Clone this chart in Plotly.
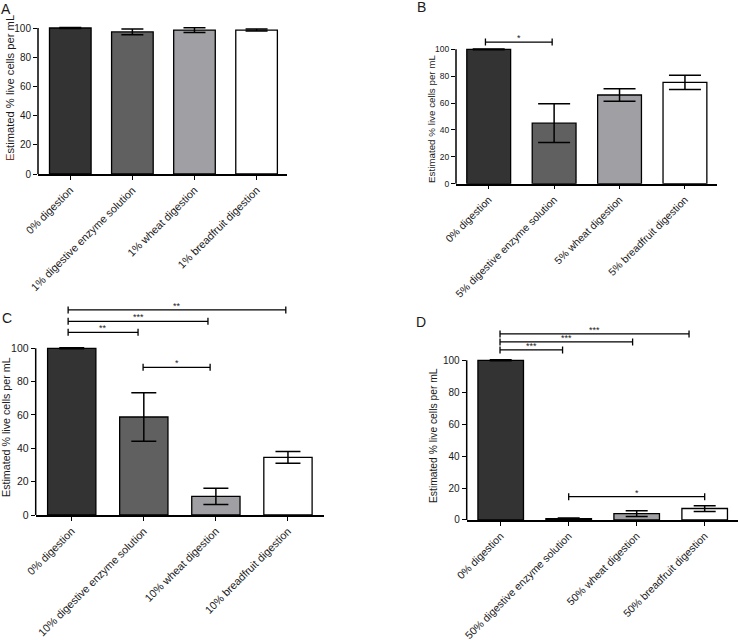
import plotly.graph_objects as go

W, H = 740, 640
FONT = "Liberation Sans, Arial, sans-serif"
INK = "#1a1a1a"

# ---------------- data ----------------
cats_A = ["0% digestion", "1% digestive enzyme solution", "1% wheat digestion", "1% breadfruit digestion"]
vals_A = [100, 97.3, 98.6, 98.6]
err_A = [0.3, 2.0, 1.6, 0.7]
brackets_A = []

cats_B = ["0% digestion", "5% digestive enzyme solution", "5% wheat digestion", "5% breadfruit digestion"]
vals_B = [100, 45.0, 66.0, 75.4]
err_B = [0.3, 14.4, 4.7, 5.3]
brackets_B = [(-0.05, 0.97, 105.4, "*")]

cats_C = ["0% digestion", "10% digestive enzyme solution", "10% wheat digestion", "10% breadfruit digestion"]
vals_C = [100, 58.8, 11.2, 34.6]
err_C = [0.3, 14.5, 4.9, 3.5]
brackets_C = [(-0.05, 2.97, 123.0, "**"),
              (-0.05, 1.89, 116.2, "***"),
              (-0.05, 0.92, 109.6, "**"),
              (0.99, 1.92, 88.6, "*")]

cats_D = ["0% digestion", "50% digestive enzyme solution", "50% wheat digestion", "50% breadfruit digestion"]
vals_D = [100, 0.9, 4.0, 7.2]
err_D = [0.3, 0.4, 1.8, 1.8]
brackets_D = [(-0.01, 2.77, 116.5, "***"),
              (-0.01, 1.94, 111.5, "***"),
              (-0.01, 0.91, 106.5, "***"),
              (1.0, 3.0, 14.6, "*")]

y_ticks = [0, 20, 40, 60, 80, 100]
bar_colors = ["#333333", "#606060", "#a0a0a4", "#ffffff"]
y_title = "Estimated % live cells per mL"

# ---------------- layout geometry (pixels) ----------------
panels = [
    dict(label="A", cats=cats_A, vals=vals_A, errs=err_A, br=brackets_A, x0=38, x1=287, y0=174, y100=28,
         ymax=102, xr=[-0.52, 3.49], tf=10, xtf=10.8, ttf=11.2, tpos=(10, 88), lpos=(6, 9), cap=11,
         title="<span style='color:#7a3a2a'>E</span>stimated % live cells per mL"),
    dict(label="B", cats=cats_B, vals=vals_B, errs=err_B, br=brackets_B, x0=456, x1=717, y0=183.7, y100=49.3,
         ymax=112, xr=[-0.5, 3.49], tf=8.5, xtf=10.5, ttf=9.8, tpos=(432, 119), lpos=(422, 7), cap=16,
         title=y_title),
    dict(label="C", cats=cats_C, vals=vals_C, errs=err_C, br=brackets_C, x0=35.7, x1=324, y0=515, y100=348.3,
         ymax=130, xr=[-0.5, 3.5], tf=10.5, xtf=10.8, ttf=10.7, tpos=(6, 427), lpos=(7, 318), cap=12.5,
         title=y_title),
    dict(label="D", cats=cats_D, vals=vals_D, errs=err_D, br=brackets_D, x0=466.7, x1=738, y0=520, y100=360.3,
         ymax=122, xr=[-0.5, 3.49], tf=10, xtf=10.6, ttf=10.3, tpos=(433, 436), lpos=(421, 322), cap=11,
         title=y_title),
]

fig = go.Figure()
shapes = []
annotations = []

for i, p in enumerate(panels, start=1):
    xa = "x" if i == 1 else f"x{i}"
    ya = "y" if i == 1 else f"y{i}"
    ppu = (p["y0"] - p["y100"]) / 100.0
    top_px = p["y0"] - p["ymax"] * ppu
    ydom = [1 - p["y0"] / H, 1 - top_px / H]
    xdom = [p["x0"] / W, p["x1"] / W]

    fig.add_trace(go.Bar(
        x=p["cats"], y=p["vals"],
        error_y=dict(type="data", array=p["errs"], visible=True, color="black",
                     thickness=1.5, width=p["cap"]),
        marker=dict(color=bar_colors, line=dict(color="black", width=1.3)),
        width=0.67, xaxis=xa, yaxis=ya, showlegend=False,
    ))

    xkey = "xaxis" if i == 1 else f"xaxis{i}"
    ykey = "yaxis" if i == 1 else f"yaxis{i}"
    fig.update_layout(**{
        xkey: dict(domain=xdom, anchor=ya, type="category", range=p["xr"], automargin=False,
                   showline=True, linecolor="black", linewidth=1.5,
                   ticks="outside", ticklen=4, tickwidth=1.3, tickcolor="black",
                   tickangle=-45, showgrid=False, zeroline=False,
                   tickfont=dict(family=FONT, size=p["xtf"], color=INK)),
        ykey: dict(domain=ydom, anchor=xa, range=[0, p["ymax"]], automargin=False,
                   tickvals=y_ticks, ticks="outside", ticklen=4, tickwidth=1.3,
                   tickcolor="black", showline=False, showgrid=False, zeroline=False,
                   tickfont=dict(family=FONT, size=p["tf"], color=INK)),
    })

    # y axis line only up to 100
    shapes.append(dict(type="line", xref=f"{xa} domain", yref=f"{ya} domain",
                       x0=0, x1=0, y0=0, y1=100 / p["ymax"],
                       line=dict(color="black", width=1.5)))

    # significance brackets
    cap_h = 3.5 / ppu
    for (bx0, bx1, by, lab) in p["br"]:
        shapes.append(dict(type="line", xref=xa, yref=ya, x0=bx0, x1=bx1, y0=by, y1=by,
                           line=dict(color="black", width=1.3)))
        for bx in (bx0, bx1):
            shapes.append(dict(type="line", xref=xa, yref=ya, x0=bx, x1=bx,
                               y0=by - cap_h, y1=by + cap_h,
                               line=dict(color="black", width=1.3)))
        annotations.append(dict(xref=xa, yref=ya, x=(bx0 + bx1) / 2, y=by, text=lab,
                                showarrow=False, yanchor="bottom", yshift=-3,
                                font=dict(family=FONT, size=9, color=INK)))

    # y title
    annotations.append(dict(xref="paper", yref="paper", x=p["tpos"][0] / W, y=1 - p["tpos"][1] / H,
                            text=p["title"], textangle=-90, showarrow=False,
                            xanchor="center", yanchor="middle",
                            font=dict(family=FONT, size=p["ttf"], color=INK)))
    # panel label
    annotations.append(dict(xref="paper", yref="paper", x=p["lpos"][0] / W, y=1 - p["lpos"][1] / H,
                            text=p["label"], showarrow=False, xanchor="center", yanchor="middle",
                            font=dict(family=FONT, size=14, color=INK)))

fig.update_layout(width=W, height=H, margin=dict(l=0, r=0, t=0, b=0),
                  paper_bgcolor="white", plot_bgcolor="white",
                  shapes=shapes, annotations=annotations)

fig.write_html("out.html", config={"displayModeBar": False},
               post_script="document.body.style.margin='0px';document.body.style.overflow='hidden';")
